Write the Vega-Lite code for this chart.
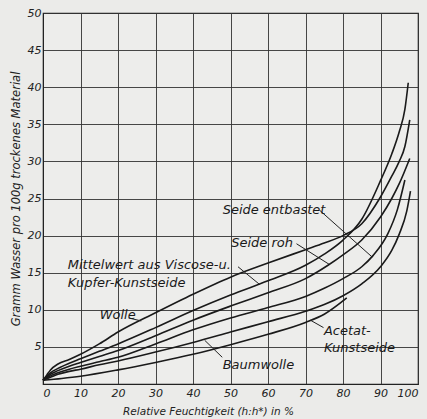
{
  "$schema": "https://vega.github.io/schema/vega-lite/v6.json",
  "width": 375,
  "height": 371,
  "autosize": {"type": "none"},
  "padding": {"left": 43, "top": 13, "right": 9, "bottom": 35},
  "background": "#ebebe9",
  "config": {
    "view": {"stroke": "#222222", "strokeWidth": 1.2, "fill": "#ededeb"},
    "font": "DejaVu Sans",
    "axis": {
      "grid": true,
      "labelFont": "DejaVu Sans",
      "labelFontStyle": "italic",
      "labelFontSize": 11,
      "labelColor": "#222222",
      "labelOverlap": false,
      "titleFont": "DejaVu Sans",
      "titleFontStyle": "italic",
      "titleFontWeight": "normal",
      "titleColor": "#222222",
      "gridColor": "#333333",
      "gridOpacity": 1,
      "gridWidth": 0.9,
      "domainColor": "#222222",
      "tickColor": "#222222",
      "tickSize": 3
    }
  },
  "datasets": {
    "curves": [
      {"s": "Wolle", "x": 0, "y": 0.5}, {"s": "Wolle", "x": 1, "y": 1.2}, {"s": "Wolle", "x": 2, "y": 1.9}, {"s": "Wolle", "x": 4, "y": 2.7}, {"s": "Wolle", "x": 7, "y": 3.3}, {"s": "Wolle", "x": 10, "y": 4.0}, {"s": "Wolle", "x": 15, "y": 5.4}, {"s": "Wolle", "x": 20, "y": 7.0}, {"s": "Wolle", "x": 30, "y": 9.6}, {"s": "Wolle", "x": 40, "y": 12.1}, {"s": "Wolle", "x": 50, "y": 14.4}, {"s": "Wolle", "x": 60, "y": 16.3}, {"s": "Wolle", "x": 70, "y": 18.1}, {"s": "Wolle", "x": 75, "y": 19.0}, {"s": "Wolle", "x": 80, "y": 20.0}, {"s": "Wolle", "x": 85, "y": 21.6}, {"s": "Wolle", "x": 90, "y": 25.2}, {"s": "Wolle", "x": 93, "y": 28.0}, {"s": "Wolle", "x": 95, "y": 30.0}, {"s": "Wolle", "x": 96.5, "y": 32.0}, {"s": "Wolle", "x": 97.8, "y": 35.6},
      {"s": "Viscose", "x": 0, "y": 0.5}, {"s": "Viscose", "x": 1, "y": 1.0}, {"s": "Viscose", "x": 2, "y": 1.5}, {"s": "Viscose", "x": 4, "y": 2.1}, {"s": "Viscose", "x": 7, "y": 2.8}, {"s": "Viscose", "x": 10, "y": 3.4}, {"s": "Viscose", "x": 15, "y": 4.4}, {"s": "Viscose", "x": 20, "y": 5.4}, {"s": "Viscose", "x": 30, "y": 7.6}, {"s": "Viscose", "x": 40, "y": 9.9}, {"s": "Viscose", "x": 50, "y": 12.0}, {"s": "Viscose", "x": 60, "y": 13.9}, {"s": "Viscose", "x": 70, "y": 16.0}, {"s": "Viscose", "x": 75, "y": 17.5}, {"s": "Viscose", "x": 80, "y": 19.4}, {"s": "Viscose", "x": 85, "y": 22.2}, {"s": "Viscose", "x": 90, "y": 27.4}, {"s": "Viscose", "x": 93, "y": 31.0}, {"s": "Viscose", "x": 95, "y": 34.0}, {"s": "Viscose", "x": 96.5, "y": 37.0}, {"s": "Viscose", "x": 97.4, "y": 40.6},
      {"s": "Seide roh", "x": 0, "y": 0.5}, {"s": "Seide roh", "x": 1, "y": 0.9}, {"s": "Seide roh", "x": 2, "y": 1.3}, {"s": "Seide roh", "x": 4, "y": 1.8}, {"s": "Seide roh", "x": 7, "y": 2.4}, {"s": "Seide roh", "x": 10, "y": 2.9}, {"s": "Seide roh", "x": 15, "y": 3.7}, {"s": "Seide roh", "x": 20, "y": 4.5}, {"s": "Seide roh", "x": 30, "y": 6.5}, {"s": "Seide roh", "x": 40, "y": 8.6}, {"s": "Seide roh", "x": 50, "y": 10.5}, {"s": "Seide roh", "x": 60, "y": 12.3}, {"s": "Seide roh", "x": 70, "y": 14.2}, {"s": "Seide roh", "x": 76, "y": 16.0}, {"s": "Seide roh", "x": 80, "y": 17.4}, {"s": "Seide roh", "x": 85, "y": 19.4}, {"s": "Seide roh", "x": 90, "y": 22.5}, {"s": "Seide roh", "x": 93, "y": 25.0}, {"s": "Seide roh", "x": 95, "y": 27.0}, {"s": "Seide roh", "x": 97.8, "y": 30.4},
      {"s": "Seide entbastet", "x": 0, "y": 0.5}, {"s": "Seide entbastet", "x": 1, "y": 0.8}, {"s": "Seide entbastet", "x": 2, "y": 1.1}, {"s": "Seide entbastet", "x": 4, "y": 1.5}, {"s": "Seide entbastet", "x": 7, "y": 2.0}, {"s": "Seide entbastet", "x": 10, "y": 2.4}, {"s": "Seide entbastet", "x": 15, "y": 3.0}, {"s": "Seide entbastet", "x": 20, "y": 3.6}, {"s": "Seide entbastet", "x": 30, "y": 5.4}, {"s": "Seide entbastet", "x": 40, "y": 7.3}, {"s": "Seide entbastet", "x": 50, "y": 8.9}, {"s": "Seide entbastet", "x": 60, "y": 10.3}, {"s": "Seide entbastet", "x": 70, "y": 11.8}, {"s": "Seide entbastet", "x": 75, "y": 12.9}, {"s": "Seide entbastet", "x": 80, "y": 14.2}, {"s": "Seide entbastet", "x": 85, "y": 15.8}, {"s": "Seide entbastet", "x": 88, "y": 17.3}, {"s": "Seide entbastet", "x": 92, "y": 20.3}, {"s": "Seide entbastet", "x": 94.5, "y": 23.5}, {"s": "Seide entbastet", "x": 96.5, "y": 27.5},
      {"s": "Baumwolle", "x": 0, "y": 0.5}, {"s": "Baumwolle", "x": 1, "y": 0.7}, {"s": "Baumwolle", "x": 2, "y": 0.9}, {"s": "Baumwolle", "x": 4, "y": 1.3}, {"s": "Baumwolle", "x": 7, "y": 1.7}, {"s": "Baumwolle", "x": 10, "y": 2.0}, {"s": "Baumwolle", "x": 15, "y": 2.6}, {"s": "Baumwolle", "x": 20, "y": 3.1}, {"s": "Baumwolle", "x": 30, "y": 4.3}, {"s": "Baumwolle", "x": 40, "y": 5.6}, {"s": "Baumwolle", "x": 50, "y": 7.0}, {"s": "Baumwolle", "x": 60, "y": 8.4}, {"s": "Baumwolle", "x": 70, "y": 9.8}, {"s": "Baumwolle", "x": 75, "y": 10.7}, {"s": "Baumwolle", "x": 80, "y": 11.9}, {"s": "Baumwolle", "x": 85, "y": 13.5}, {"s": "Baumwolle", "x": 90, "y": 15.8}, {"s": "Baumwolle", "x": 93, "y": 18.0}, {"s": "Baumwolle", "x": 95, "y": 20.2}, {"s": "Baumwolle", "x": 97, "y": 23.3}, {"s": "Baumwolle", "x": 98, "y": 26.0},
      {"s": "Acetat", "x": 0, "y": 0.5}, {"s": "Acetat", "x": 5, "y": 0.75}, {"s": "Acetat", "x": 10, "y": 1.05}, {"s": "Acetat", "x": 20, "y": 1.9}, {"s": "Acetat", "x": 30, "y": 2.9}, {"s": "Acetat", "x": 40, "y": 4.0}, {"s": "Acetat", "x": 50, "y": 5.3}, {"s": "Acetat", "x": 60, "y": 6.7}, {"s": "Acetat", "x": 70, "y": 8.3}, {"s": "Acetat", "x": 75, "y": 9.4}, {"s": "Acetat", "x": 81, "y": 11.6}
    ],
    "leaders": [
      {"name": "Wolle", "x": 22.8, "y": 8.9, "x2": 26.2, "y2": 8.5},
      {"name": "Viscose", "x": 52.0, "y": 15.8, "x2": 57.8, "y2": 13.4},
      {"name": "Seide roh", "x": 67.6, "y": 18.9, "x2": 76.4, "y2": 16.1},
      {"name": "Seide entbastet", "x": 73.8, "y": 23.4, "x2": 87.8, "y2": 17.1},
      {"name": "Acetat", "x": 74.8, "y": 7.6, "x2": 71.3, "y2": 8.6},
      {"name": "Baumwolle", "x": 47.8, "y": 3.6, "x2": 43.1, "y2": 5.9}
    ],
    "labels": [
      {"text": "Mittelwert aus Viscose-u.", "x": 6.6, "y": 16.0},
      {"text": "Kupfer-Kunstseide", "x": 6.6, "y": 13.6},
      {"text": "Wolle", "x": 15.1, "y": 9.3},
      {"text": "Seide entbastet", "x": 47.9, "y": 23.5},
      {"text": "Seide roh", "x": 50.2, "y": 19.0},
      {"text": "Acetat-", "x": 74.9, "y": 7.2},
      {"text": "Kunstseide", "x": 74.9, "y": 4.8},
      {"text": "Baumwolle", "x": 47.9, "y": 2.5}
    ]
  },
  "encoding": {
    "x": {"field": "x", "type": "quantitative", "scale": {"domain": [0, 100], "nice": false},
      "axis": {"grid": true, "values": [0, 10, 20, 30, 40, 50, 60, 70, 80, 90, 100], "title": "Relative  Feuchtigkeit  (h:h*)  in %", "titleFontSize": 10.5, "titleX": 165, "titleY": 27, "titleBaseline": "middle", "labelPadding": 3, "ticks": false}},
    "y": {"field": "y", "type": "quantitative", "scale": {"domain": [0, 50], "nice": false},
      "axis": {"grid": true, "values": [5, 10, 15, 20, 25, 30, 35, 40, 45, 50], "title": "Gramm Wasser pro 100g trockenes Material", "titleFontSize": 11.5, "titlePadding": 6, "labelPadding": 2, "ticks": false}}
  },
  "layer": [
    {
      "data": {"name": "curves"},
      "mark": {"type": "line", "interpolate": "monotone", "stroke": "#1a1a1a", "strokeWidth": 1.6},
      "encoding": {
        "detail": {"field": "s"}
      }
    },
    {
      "data": {"name": "leaders"},
      "mark": {"type": "rule", "stroke": "#222222", "strokeWidth": 1},
      "encoding": {
        "x2": {"field": "x2"},
        "y2": {"field": "y2"}
      }
    },
    {
      "data": {"name": "labels"},
      "mark": {"type": "text", "align": "left", "baseline": "middle", "font": "DejaVu Sans", "fontStyle": "italic", "fontSize": 13, "fill": "#1a1a1a"},
      "encoding": {
        "text": {"field": "text"}
      }
    }
  ]
}
